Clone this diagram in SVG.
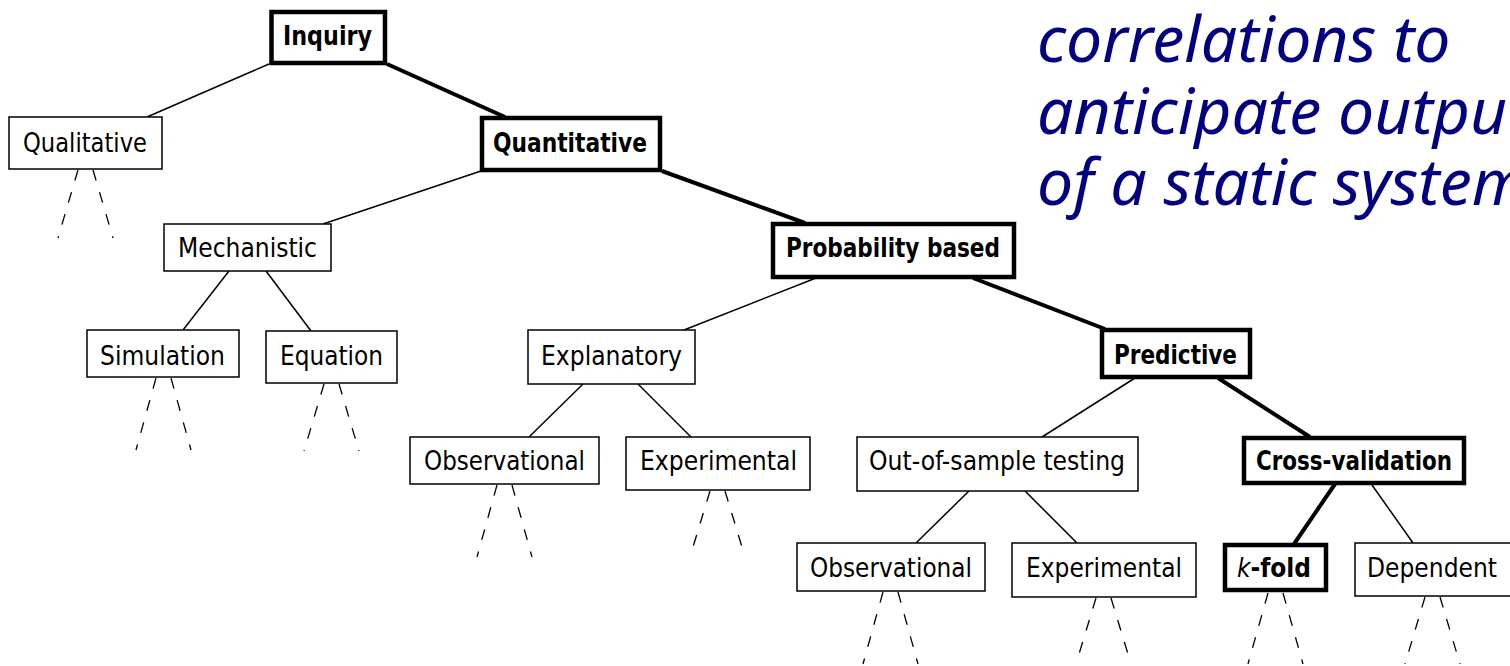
<svg xmlns="http://www.w3.org/2000/svg" width="1510" height="666" viewBox="0 0 1510 666">
<style>
  .box { fill: #fff; stroke: #000; stroke-width: 1.5; }
  .tbox { fill: #fff; stroke: #000; stroke-width: 4.5; }
  .lbl { font-family: "DejaVu Sans Condensed", "DejaVu Sans", sans-serif; font-stretch: condensed; font-size: 27px; fill: #000; }
  .b { font-weight: bold; }
  .edge { stroke: #000; stroke-width: 1.5; fill: none; }
  .tedge { stroke: #000; stroke-width: 4; fill: none; }
  .dash { stroke: #000; stroke-width: 1.3; stroke-dasharray: 11 12; fill: none; }
  .note { font-family: "Noto Sans", "Open Sans", sans-serif; font-style: italic; font-size: 63px; fill: #000080; }
</style>
<rect width="1510" height="666" fill="#fff"/>

<g id="note">
  <g transform="translate(1037,0) scale(1.02,1)">
    <text class="note" x="0" y="62">correlations to</text>
    <text class="note" x="0" y="134">anticipate outputs</text>
    <text class="note" x="0" y="205">of a static system</text>
  </g>
</g>

<g id="connectors">
  <line class="edge" x1="269" y1="64" x2="147" y2="117"/>
  <line class="tedge" x1="387" y1="64" x2="505" y2="117"/>
  <line class="edge" x1="481" y1="171" x2="323" y2="224"/>
  <line class="tedge" x1="662" y1="171" x2="805" y2="223"/>
  <line class="edge" x1="229" y1="271" x2="183" y2="330"/>
  <line class="edge" x1="266" y1="271" x2="311" y2="331"/>
  <line class="edge" x1="816" y1="278" x2="684" y2="330"/>
  <line class="tedge" x1="973" y1="278" x2="1105" y2="329"/>
  <line class="edge" x1="583" y1="384" x2="529" y2="437"/>
  <line class="edge" x1="638" y1="384" x2="691" y2="437"/>
  <line class="edge" x1="1135" y1="378" x2="1042" y2="437"/>
  <line class="tedge" x1="1218" y1="378" x2="1310" y2="437"/>
  <line class="edge" x1="969" y1="491" x2="916" y2="543"/>
  <line class="edge" x1="1025" y1="491" x2="1077" y2="543"/>
  <line class="tedge" x1="1335" y1="484" x2="1294" y2="544"/>
  <line class="edge" x1="1372" y1="485" x2="1413" y2="543"/>
  <!-- dashed continuation fans -->
  <path class="dash" d="M78,170 L58,238 M93,170 L113,238"/>
  <path class="dash" d="M156,378 L136,450 M171,378 L191,450"/>
  <path class="dash" d="M324,384 L304,451 M339,384 L359,451"/>
  <path class="dash" d="M497,485 L477,557 M512,485 L532,557"/>
  <path class="dash" d="M710,491 L690,557 M725,491 L745,557"/>
  <path class="dash" d="M883,592 L863,664 M898,592 L918,664"/>
  <path class="dash" d="M1096,598 L1076,664 M1111,598 L1131,664"/>
  <path class="dash" d="M1268,593 L1248,664 M1283,593 L1303,664"/>
  <path class="dash" d="M1425,597 L1405,664 M1440,597 L1460,664"/>
</g>

<g id="inquiry">
  <rect class="tbox" x="271.5" y="12" width="113.5" height="51"/>
  <text class="lbl b" x="283" y="45" textLength="89" lengthAdjust="spacingAndGlyphs">Inquiry</text>
</g>
<g id="qualitative">
  <rect class="box" x="9" y="117" width="153" height="52"/>
  <text class="lbl" x="23" y="152" textLength="124" lengthAdjust="spacingAndGlyphs">Qualitative</text>
</g>
<g id="quantitative">
  <rect class="tbox" x="482" y="118" width="178" height="52"/>
  <text class="lbl b" x="493" y="152" textLength="154" lengthAdjust="spacingAndGlyphs">Quantitative</text>
</g>
<g id="mechanistic">
  <rect class="box" x="164" y="224" width="167" height="47"/>
  <text class="lbl" x="178" y="257" textLength="139" lengthAdjust="spacingAndGlyphs">Mechanistic</text>
</g>
<g id="simulation">
  <rect class="box" x="87" y="330" width="152" height="47"/>
  <text class="lbl" x="100" y="365" textLength="125" lengthAdjust="spacingAndGlyphs">Simulation</text>
</g>
<g id="equation">
  <rect class="box" x="266" y="331" width="131" height="52"/>
  <text class="lbl" x="280" y="365" textLength="103" lengthAdjust="spacingAndGlyphs">Equation</text>
</g>
<g id="probability-based">
  <rect class="tbox" x="773" y="224" width="241" height="53"/>
  <text class="lbl b" x="786" y="257" textLength="214" lengthAdjust="spacingAndGlyphs">Probability based</text>
</g>
<g id="explanatory">
  <rect class="box" x="528" y="330" width="167" height="54"/>
  <text class="lbl" x="541" y="365" textLength="141" lengthAdjust="spacingAndGlyphs">Explanatory</text>
</g>
<g id="predictive">
  <rect class="tbox" x="1102" y="330" width="148" height="47"/>
  <text class="lbl b" x="1114" y="364" textLength="123" lengthAdjust="spacingAndGlyphs">Predictive</text>
</g>
<g id="observational-1">
  <rect class="box" x="410" y="437" width="189" height="47"/>
  <text class="lbl" x="424" y="470" textLength="161" lengthAdjust="spacingAndGlyphs">Observational</text>
</g>
<g id="experimental-1">
  <rect class="box" x="626" y="437" width="184" height="53"/>
  <text class="lbl" x="640" y="470" textLength="157" lengthAdjust="spacingAndGlyphs">Experimental</text>
</g>
<g id="out-of-sample">
  <rect class="box" x="857" y="437" width="281" height="54"/>
  <text class="lbl" x="869" y="470" textLength="256" lengthAdjust="spacingAndGlyphs">Out-of-sample testing</text>
</g>
<g id="cross-validation">
  <rect class="tbox" x="1244" y="438" width="220" height="45"/>
  <text class="lbl b" x="1256" y="470" textLength="196" lengthAdjust="spacingAndGlyphs">Cross-validation</text>
</g>
<g id="observational-2">
  <rect class="box" x="797" y="543" width="188" height="48"/>
  <text class="lbl" x="810" y="577" textLength="162" lengthAdjust="spacingAndGlyphs">Observational</text>
</g>
<g id="experimental-2">
  <rect class="box" x="1012" y="543" width="184" height="54"/>
  <text class="lbl" x="1026" y="577" textLength="156" lengthAdjust="spacingAndGlyphs">Experimental</text>
</g>
<g id="k-fold">
  <rect class="tbox" x="1225" y="545" width="101" height="45"/>
  <text class="lbl" x="1237" y="577" textLength="74" lengthAdjust="spacingAndGlyphs"><tspan font-style="italic">k</tspan><tspan font-weight="bold">-fold</tspan></text>
</g>
<g id="dependent">
  <rect class="box" x="1355" y="543" width="160" height="53"/>
  <text class="lbl" x="1367" y="577" textLength="130" lengthAdjust="spacingAndGlyphs">Dependent</text>
</g>
</svg>
